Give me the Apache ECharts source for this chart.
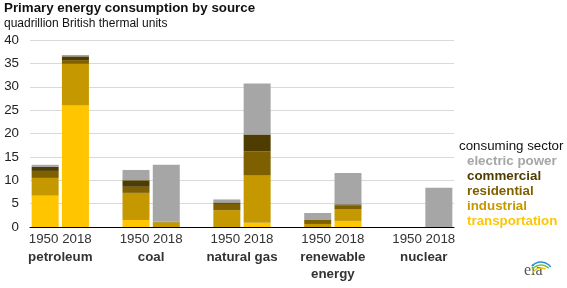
<!DOCTYPE html>
<html>
<head>
<meta charset="utf-8">
<script src="https://cdn.jsdelivr.net/npm/echarts@6/dist/echarts.min.js"></script>
<style>
  html, body { margin: 0; padding: 0; background: #fff; }
  #chart { width: 567px; height: 288px; }
</style>
</head>
<body>
<div id="chart"></div>
<script>
// sources and years, each source gets a 1950 and a 2018 bar
var sources = ['petroleum', 'coal', 'natural gas', 'renewable\nenergy', 'nuclear']
var years = ['1950', '2018']

// values per sector, in order petroleum 1950, 2018, coal 1950, 2018, ...
var transportation = [6.7, 26.0, 1.5, 0, 0, 0.9, 0, 1.3, 0, 0]
var industrial = [3.8, 8.9, 5.8, 1.0, 3.6, 10.2, 0.65, 2.55, 0, 0]
var residential = [1.5, 0.8, 1.3, 0.05, 1.35, 5.1, 0.85, 0.8, 0, 0]
var commercial = [0.85, 0.8, 1.4, 0.05, 0.3, 3.6, 0, 0.2, 0, 0]
var electricPower = [0.45, 0.3, 2.2, 12.2, 0.65, 10.9, 1.5, 6.7, 0, 8.4]

var yTicks = [0, 5, 10, 15, 20, 25, 30, 35, 40]

var sectors = [
  { name: 'transportation', data: transportation, color: '#ffc600' },
  { name: 'industrial', data: industrial, color: '#c59800' },
  { name: 'residential', data: residential, color: '#7f6000' },
  { name: 'commercial', data: commercial, color: '#4e3c00' },
  { name: 'electric power', data: electricPower, color: '#a6a6a6' }
]

// build the slot axis: two bars per source and an empty slot in between
var slots = []
var groupLabels = ['']
sources.forEach(function (s, i) {
  if (i > 0) { slots.push(''); groupLabels.push('', '') }
  years.forEach(function (y) { slots.push(y) })
  groupLabels.push(s)
})
groupLabels.push('')

function toSlots(arr) {
  var out = []
  sources.forEach(function (s, i) {
    if (i > 0) out.push(null)
    out.push(arr[i * 2] || null, arr[i * 2 + 1] || null)
  })
  return out
}

var font = 'Liberation Sans, Arial, sans-serif'
var fs = 13.33

var option = {
  animation: false,
  title: {
    text: 'Primary energy consumption by source',
    subtext: 'quadrillion British thermal units',
    left: 4,
    top: 2,
    itemGap: 3,
    padding: [0, 0, 0, 0],
    textStyle: { fontFamily: font, fontSize: fs, fontWeight: 'bold', color: '#111' },
    subtextStyle: { fontFamily: font, fontSize: 12, color: '#111' }
  },
  legend: {
    orient: 'vertical',
    left: 462,
    top: 154,
    padding: 0,
    itemWidth: 0,
    itemHeight: 0,
    itemGap: 0,
    selectedMode: false,
    textStyle: { fontFamily: font, fontSize: fs, fontWeight: 'bold', lineHeight: 15 },
    data: sectors.slice().reverse().map(function (s) {
      return { name: s.name, icon: 'rect', textStyle: { color: s.color } }
    })
  },
  grid: { left: 30, right: 113, top: 40, bottom: 61 },
  xAxis: [
    {
      type: 'category',
      data: slots,
      position: 'bottom',
      axisTick: { show: false },
      axisLine: { lineStyle: { color: '#000', width: 1 } },
      axisLabel: { show: false }
    },
    {
      // group labels sit between the two bars: years line then source name
      type: 'category',
      data: groupLabels,
      position: 'bottom',
      boundaryGap: false,
      axisTick: { show: false },
      axisLine: { show: false },
      axisLabel: {
        interval: 0,
        margin: 3,
        fontFamily: font,
        formatter: function (v) {
          if (!v) return ''
          return '{y|' + years.join(' ') + '}\n' + v.split('\n').map(function (p) {
            return '{g|' + p + '}'
          }).join('\n')
        },
        rich: {
          y: { fontFamily: font, fontSize: fs, color: '#333', lineHeight: 19 },
          g: { fontFamily: font, fontSize: fs, fontWeight: 'bold', color: '#333', lineHeight: 17 }
        }
      }
    }
  ],
  yAxis: {
    type: 'value',
    min: yTicks[0],
    max: yTicks[yTicks.length - 1],
    interval: 5,
    axisLine: { show: false },
    axisTick: { show: false },
    splitLine: { lineStyle: { color: '#d9d9d9', width: 1 } },
    axisLabel: { margin: 11, fontFamily: font, fontSize: fs, color: '#222' }
  },
  graphic: [
    {
      type: 'text', left: 459, top: 140,
      style: { text: 'consuming sector', font: fs + 'px ' + font, fill: '#111' }
    },
    {
      type: 'text', left: 524, top: 263,
      style: { text: 'eia', font: '16px Liberation Serif, DejaVu Serif, serif', fill: '#555' }
    },
    {
      type: 'arc', shape: { cx: 541, cy: 274, r: 12, startAngle: -Math.PI * 0.78, endAngle: -Math.PI * 0.2 },
      style: { stroke: '#2a8fd6', lineWidth: 1.5, fill: null }
    },
    {
      type: 'arc', shape: { cx: 541, cy: 276, r: 11, startAngle: -Math.PI * 0.8, endAngle: -Math.PI * 0.25 },
      style: { stroke: '#7ac143', lineWidth: 1.5, fill: null }
    },
    {
      type: 'arc', shape: { cx: 541, cy: 278, r: 10, startAngle: -Math.PI * 0.82, endAngle: -Math.PI * 0.35 },
      style: { stroke: '#f3c300', lineWidth: 1.5, fill: null }
    }
  ],
  series: sectors.map(function (s) {
    return {
      name: s.name,
      type: 'bar',
      stack: 'total',
      xAxisIndex: 0,
      barWidth: 27,
      itemStyle: { color: s.color },
      data: toSlots(s.data)
    }
  })
}

var chart = echarts.init(document.getElementById('chart'))
chart.setOption(option)
window.addEventListener('resize', chart.resize)
</script>
</body>
</html>
